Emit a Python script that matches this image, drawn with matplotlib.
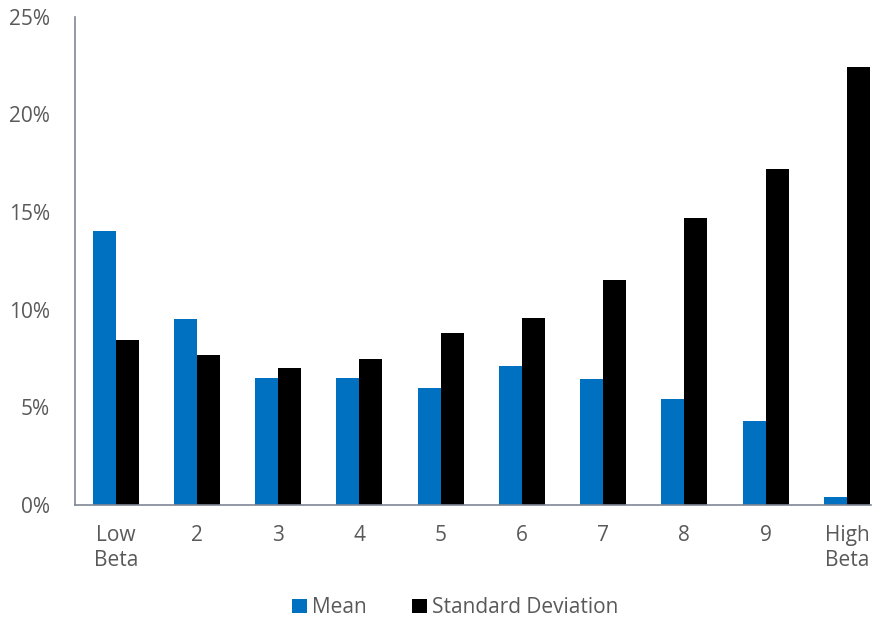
import numpy as np
import matplotlib
matplotlib.use('Agg')
import matplotlib.pyplot as plt
from matplotlib.ticker import PercentFormatter

plt.rcParams['font.family'] = ['Open Sans', 'DejaVu Sans']

categories = ['Low\nBeta', '2', '3', '4', '5', '6', '7', '8', '9', 'High\nBeta']
mean = [14.05, 9.55, 6.5, 6.5, 6.0, 7.12, 6.45, 5.43, 4.3, 0.41]
std_dev = [8.45, 7.68, 7.02, 7.48, 8.81, 9.58, 11.53, 14.68, 17.18, 22.45]

blue = '#0070C0'
text_grey = '#595959'

fig = plt.figure(figsize=(8.84, 6.19), dpi=100)
ax = fig.add_axes([0.085, 0.184, 0.919, 0.789])

x = np.arange(len(categories))
w = 0.283
ax.bar(x - w / 2, mean, w, color=blue, label='Mean')
ax.bar(x + w / 2, std_dev, w, color='black', label='Standard Deviation')

ax.set_xlim(-0.5, len(categories) - 0.5)
ax.set_ylim(0, 25)
ax.set_yticks(range(0, 26, 5))
ax.yaxis.set_major_formatter(PercentFormatter(decimals=0))
ax.set_xticks(x)
ax.set_xticklabels(categories, linespacing=1.3)

for side in ['top', 'right']:
    ax.spines[side].set_visible(False)
for side in ['left', 'bottom']:
    ax.spines[side].set_color('#7f8796')
    ax.spines[side].set_linewidth(1.2)
ax.spines['bottom'].set_bounds(-0.5, 9.3)

ax.tick_params(axis='both', length=0, labelsize=15, colors=text_grey)
ax.tick_params(axis='x', pad=14)
ax.tick_params(axis='y', pad=18)

leg = fig.legend(loc='center', bbox_to_anchor=(0.515, 0.018), ncol=2, frameon=False,
                 fontsize=15, handlelength=0.7, handleheight=0.7,
                 handletextpad=0.25, columnspacing=2.2)
for t in leg.get_texts():
    t.set_color(text_grey)

fig.savefig('out.png', dpi=100)
